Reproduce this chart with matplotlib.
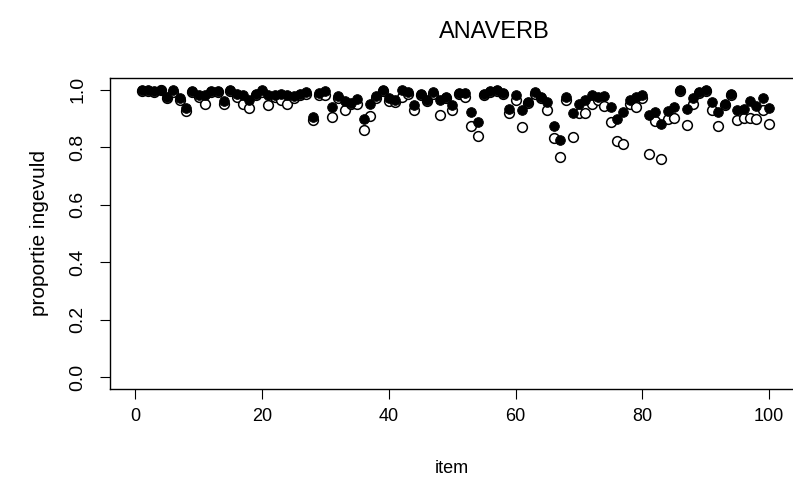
import matplotlib
matplotlib.use("Agg")
import matplotlib.pyplot as plt
import numpy as np

# proportie ingevuld per item (gesloten en open cirkels)
items = np.arange(1, 101)
gevuld = [0.998, 1.0, 0.995, 1.0, 0.975, 1.0, 0.97, 0.935, 0.996, 0.98,
          0.98, 0.996, 0.996, 0.959, 0.998, 0.985, 0.98, 0.963, 0.985, 0.998,
          0.98, 0.98, 0.985, 0.98, 0.976, 0.985, 0.99, 0.905, 0.988, 0.996,
          0.94, 0.976, 0.96, 0.953, 0.967, 0.896, 0.95, 0.976, 1.0, 0.972,
          0.963, 0.998, 0.99, 0.945, 0.985, 0.965, 0.99, 0.963, 0.975, 0.945,
          0.988, 0.988, 0.922, 0.888, 0.985, 0.994, 0.998, 0.988, 0.934, 0.982,
          0.93, 0.958, 0.99, 0.975, 0.958, 0.873, 0.826, 0.975, 0.917, 0.95,
          0.963, 0.98, 0.975, 0.976, 0.941, 0.896, 0.922, 0.963, 0.975, 0.98,
          0.911, 0.922, 0.88, 0.925, 0.94, 0.998, 0.934, 0.969, 0.992, 0.998,
          0.955, 0.922, 0.95, 0.984, 0.93, 0.934, 0.96, 0.943, 0.969, 0.936]
open_ = [0.995, 0.995, 0.99, 0.998, 0.97, 0.99, 0.965, 0.925, 0.99, 0.975,
         0.951, 0.99, 0.992, 0.951, 0.995, 0.975, 0.951, 0.936, 0.98, 0.99,
         0.945, 0.975, 0.965, 0.951, 0.97, 0.98, 0.985, 0.895, 0.98, 0.98,
         0.905, 0.97, 0.928, 0.948, 0.95, 0.859, 0.907, 0.97, 0.995, 0.96,
         0.958, 0.975, 0.985, 0.928, 0.98, 0.96, 0.985, 0.913, 0.97, 0.93,
         0.985, 0.975, 0.873, 0.838, 0.98, 0.99, 0.994, 0.984, 0.92, 0.965,
         0.87, 0.953, 0.985, 0.97, 0.93, 0.833, 0.766, 0.963, 0.836, 0.92,
         0.92, 0.951, 0.963, 0.942, 0.888, 0.822, 0.812, 0.95, 0.94, 0.972,
         0.775, 0.89, 0.76, 0.896, 0.9, 0.995, 0.876, 0.951, 0.988, 0.994,
         0.928, 0.873, 0.945, 0.98, 0.893, 0.9, 0.9, 0.896, 0.93, 0.88]

plt.rcParams['font.family'] = ['Liberation Sans', 'DejaVu Sans']

fig = plt.figure(figsize=(7.93, 4.82), dpi=100)
ax = fig.add_axes([110 / 793, (482 - 389) / 482, 684.5 / 793, 311 / 482])

ax.plot(items, open_, 'o', mfc='white', mec='black', mew=1.1, ms=7, ls='none')
ax.plot(items, gevuld, 'o', mfc='black', mec='black', mew=0.6, ms=7, ls='none')

ax.set_xlim(-4, 104)
ax.set_ylim(-0.04, 1.04)
ax.set_xticks([0, 20, 40, 60, 80, 100])
ax.set_yticks([0.0, 0.2, 0.4, 0.6, 0.8, 1.0])
ax.set_yticklabels(['0.0', '0.2', '0.4', '0.6', '0.8', '1.0'], rotation=90, va='center')
ax.tick_params(direction='out', length=7, width=0.8)
ax.tick_params(axis='x', pad=7, labelsize=13)
ax.tick_params(axis='y', pad=10, labelsize=14)
for s in ax.spines.values():
    s.set_linewidth(1.0)

ax.set_xlabel("item", fontsize=13, labelpad=25)
ax.set_ylabel("proportie ingevuld", fontsize=15, labelpad=15)
fig.text(494 / 793, 1 - 32 / 482, "ANAVERB", fontsize=17, ha='center', va='center')

fig.savefig("out.png", dpi=100)
